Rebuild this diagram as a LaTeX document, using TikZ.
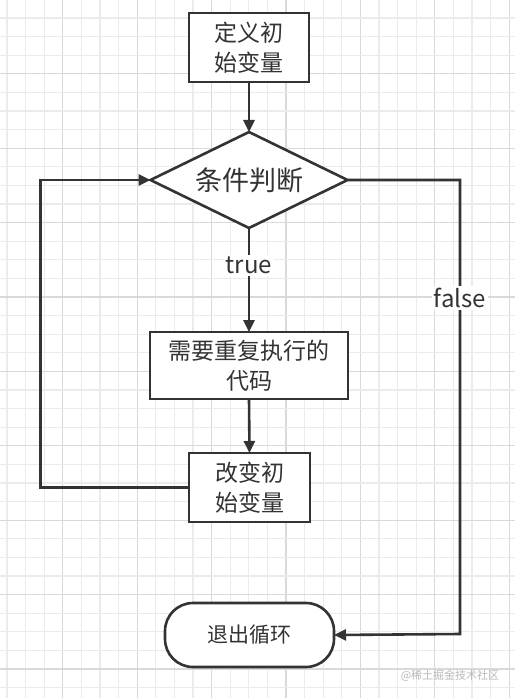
\documentclass[tikz,border=0pt]{standalone}
\usepackage{fontspec}
\setmainfont{Noto Sans CJK SC}
\usetikzlibrary{shapes.geometric,arrows.meta}
\definecolor{ink}{HTML}{333333}
\definecolor{gridminor}{HTML}{EBEBEB}
\definecolor{gridmajor}{HTML}{D9D9D9}
\tikzset{
  box/.style={draw=ink, line width=2.6pt, fill=white, inner sep=0pt, outer sep=0pt, align=center, text=ink, font=\fontsize{23}{30}\selectfont},
  decision/.style={diamond, aspect=2.05, draw=ink, line width=2.6pt, fill=white, inner sep=0pt, outer sep=0pt, minimum width=197pt, minimum height=96pt, text=ink, font=\fontsize{27}{32}\selectfont},
  terminal/.style={draw=ink, line width=2.6pt, fill=white, rounded corners=28pt, inner sep=0pt, outer sep=0pt, minimum width=169pt, minimum height=64pt, text=ink, font=\fontsize{21}{26}\selectfont},
  flow/.style={draw=ink, line width=2.6pt, -{Triangle[length=12pt,width=11pt]}},
  lbl/.style={fill=white, text=ink, inner sep=2pt, font=\fontsize{24}{28}\selectfont}
}
\begin{document}
\begin{tikzpicture}[x=1pt,y=-1pt]
\useasboundingbox (0,0) rectangle (515,698);
\fill[white] (0,0) rectangle (515,698);
% grid
\foreach \k in {0,...,27}{
  \pgfmathsetmacro{\xx}{7+18.6*\k}
  \pgfmathtruncatemacro{\m}{mod(\k+1,4)}
  \ifnum\m=0
    \draw[gridmajor, line width=1.2pt] (\xx,0) -- (\xx,698);
  \else
    \draw[gridminor, line width=1.2pt] (\xx,0) -- (\xx,698);
  \fi
}
\foreach \k in {1,...,37}{
  \pgfmathsetmacro{\yy}{-0.6+18.6*\k}
  \pgfmathtruncatemacro{\m}{mod(\k,4)}
  \ifnum\m=0
    \draw[gridmajor, line width=1.2pt] (0,\yy) -- (515,\yy);
  \else
    \draw[gridminor, line width=1.2pt] (0,\yy) -- (515,\yy);
  \fi
}
% nodes
\node[box, minimum width=120pt, minimum height=69pt] (init) at (249,47.5) {定义初\\始变量};
\node[decision] (cond) at (249,180) {条件判断};
\node[box, minimum width=198pt, minimum height=67pt] (body) at (249,365.5) {需要重复执行的\\代码};
\node[box, minimum width=121pt, minimum height=69pt] (update) at (249.5,487.5) {改变初\\始变量};
\node[terminal] (exit) at (249.5,635) {退出循环};
\coordinate (lt) at (40.5,487.5);
\coordinate (lb) at (40.5,180);
\coordinate (rt) at (460,180);
\coordinate (rb) at (460,634);
% connectors
\draw[flow] (init.south) -- (cond.north);
\draw[flow] (cond.south) -- node[lbl, pos=0.36] (t) {true} (body.north);
\draw[flow] (body.south) -- (update.north);
\draw[flow] (update.west) -- (lt) -- (lb) -- (cond.west);
\draw[flow] (cond.east) -- (rt) -- node[lbl, pos=0.26] (f) {false} (rb) -- (exit.east);
% watermark
\node[text=gray!55, font=\fontsize{11}{13}\selectfont, anchor=center] (wm) at (450,676) {@稀土掘金技术社区};
\end{tikzpicture}
\end{document}
